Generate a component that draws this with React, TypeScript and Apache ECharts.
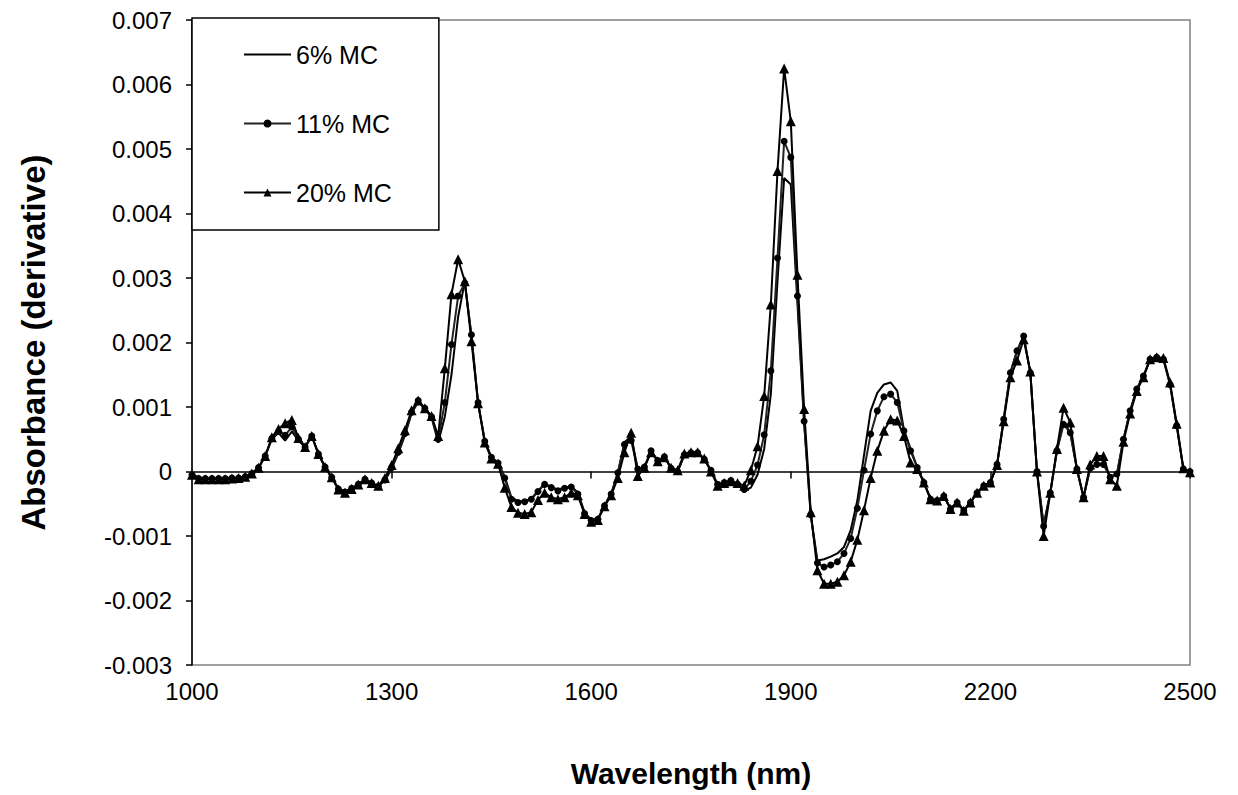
import React, { useEffect, useRef } from 'react';
import * as echarts from 'echarts';

// Wavelength (nm)
const wavelengths = [
  1000, 1010, 1020, 1030, 1040, 1050, 1060, 1070, 1080, 1090,
  1100, 1110, 1120, 1130, 1140, 1150, 1160, 1170, 1180, 1190,
  1200, 1210, 1220, 1230, 1240, 1250, 1260, 1270, 1280, 1290,
  1300, 1310, 1320, 1330, 1340, 1350, 1360, 1370, 1380, 1390,
  1400, 1410, 1420, 1430, 1440, 1450, 1460, 1470, 1480, 1490,
  1500, 1510, 1520, 1530, 1540, 1550, 1560, 1570, 1580, 1590,
  1600, 1610, 1620, 1630, 1640, 1650, 1660, 1670, 1680, 1690,
  1700, 1710, 1720, 1730, 1740, 1750, 1760, 1770, 1780, 1790,
  1800, 1810, 1820, 1830, 1840, 1850, 1860, 1870, 1880, 1890,
  1900, 1910, 1920, 1930, 1940, 1950, 1960, 1970, 1980, 1990,
  2000, 2010, 2020, 2030, 2040, 2050, 2060, 2070, 2080, 2090,
  2100, 2110, 2120, 2130, 2140, 2150, 2160, 2170, 2180, 2190,
  2200, 2210, 2220, 2230, 2240, 2250, 2260, 2270, 2280, 2290,
  2300, 2310, 2320, 2330, 2340, 2350, 2360, 2370, 2380, 2390,
  2400, 2410, 2420, 2430, 2440, 2450, 2460, 2470, 2480, 2490,
  2500,
];

// Absorbance (derivative), in units of 0.001
const mc6 = [
  -0.03, -0.10, -0.11, -0.11, -0.11, -0.11, -0.10, -0.10, -0.07, -0.03,
  0.06, 0.24, 0.50, 0.60, 0.48, 0.62, 0.48, 0.38, 0.55, 0.28,
  0.07, -0.10, -0.26, -0.31, -0.26, -0.20, -0.13, -0.18, -0.23, -0.14,
  0.04, 0.28, 0.56, 0.90, 1.08, 0.97, 0.84, 0.45, 0.85, 1.50,
  2.40, 2.95, 2.10, 1.06, 0.48, 0.22, 0.14, -0.08, -0.40, -0.46,
  -0.46, -0.42, -0.30, -0.19, -0.24, -0.28, -0.25, -0.23, -0.33, -0.63,
  -0.75, -0.73, -0.53, -0.35, -0.02, 0.45, 0.55, 0.04, 0.07, 0.32,
  0.17, 0.23, 0.05, 0.00, 0.25, 0.29, 0.29, 0.19, 0.02, -0.20,
  -0.17, -0.14, -0.20, -0.30, -0.25, -0.05, 0.35, 1.20, 2.95, 4.55,
  4.45, 2.60, 0.75, -0.68, -1.38, -1.36, -1.32, -1.27, -1.17, -0.91,
  -0.45, 0.25, 0.94, 1.22, 1.35, 1.38, 1.25, 0.65, 0.35, 0.07,
  -0.17, -0.42, -0.45, -0.38, -0.57, -0.48, -0.60, -0.48, -0.33, -0.22,
  -0.17, 0.11, 0.82, 1.53, 1.87, 2.10, 1.53, 0.00, -0.82, -0.33,
  0.32, 0.78, 0.60, 0.04, -0.40, 0.05, 0.11, 0.11, -0.07, -0.05,
  0.50, 0.94, 1.28, 1.48, 1.74, 1.77, 1.74, 1.35, 0.71, 0.04,
  0.00,
];

const mc11 = [
  -0.05, -0.11, -0.11, -0.11, -0.11, -0.11, -0.10, -0.10, -0.08, -0.03,
  0.06, 0.24, 0.51, 0.62, 0.56, 0.69, 0.50, 0.38, 0.55, 0.27,
  0.07, -0.09, -0.27, -0.32, -0.26, -0.20, -0.12, -0.18, -0.23, -0.13,
  0.06, 0.30, 0.59, 0.92, 1.10, 0.98, 0.85, 0.50, 1.07, 1.97,
  2.72, 2.92, 2.12, 1.07, 0.47, 0.22, 0.13, -0.10, -0.43, -0.48,
  -0.47, -0.43, -0.31, -0.20, -0.25, -0.30, -0.26, -0.24, -0.35, -0.65,
  -0.76, -0.74, -0.53, -0.35, -0.02, 0.42, 0.48, 0.04, 0.07, 0.32,
  0.17, 0.23, 0.05, 0.00, 0.26, 0.29, 0.29, 0.19, 0.02, -0.20,
  -0.17, -0.14, -0.20, -0.28, -0.15, 0.10, 0.57, 1.56, 3.31, 5.12,
  4.87, 2.72, 0.78, -0.67, -1.42, -1.48, -1.45, -1.40, -1.27, -1.04,
  -0.57, 0.02, 0.58, 0.94, 1.16, 1.20, 1.07, 0.63, 0.32, 0.06,
  -0.17, -0.43, -0.45, -0.38, -0.58, -0.48, -0.61, -0.48, -0.33, -0.22,
  -0.17, 0.11, 0.81, 1.53, 1.87, 2.10, 1.53, 0.00, -0.85, -0.33,
  0.32, 0.73, 0.60, 0.04, -0.40, 0.05, 0.11, 0.11, -0.09, -0.04,
  0.50, 0.94, 1.28, 1.48, 1.74, 1.77, 1.74, 1.35, 0.71, 0.04,
  0.00,
];

const mc20 = [
  -0.05, -0.12, -0.12, -0.12, -0.12, -0.12, -0.11, -0.10, -0.08, -0.03,
  0.06, 0.24, 0.53, 0.66, 0.75, 0.80, 0.52, 0.38, 0.55, 0.27,
  0.07, -0.09, -0.28, -0.33, -0.27, -0.20, -0.12, -0.18, -0.22, -0.10,
  0.10, 0.36, 0.64, 0.95, 1.10, 0.98, 0.86, 0.55, 1.60, 2.75,
  3.29, 2.95, 2.02, 1.06, 0.45, 0.20, 0.12, -0.25, -0.55, -0.64,
  -0.66, -0.63, -0.44, -0.33, -0.40, -0.43, -0.40, -0.33, -0.37, -0.66,
  -0.78, -0.75, -0.54, -0.37, -0.10, 0.30, 0.60, -0.07, 0.06, 0.30,
  0.16, 0.22, 0.06, 0.02, 0.28, 0.30, 0.30, 0.20, 0.00, -0.22,
  -0.18, -0.15, -0.18, -0.22, 0.02, 0.39, 1.17, 2.59, 4.66, 6.25,
  5.43, 3.05, 0.97, -0.63, -1.53, -1.74, -1.74, -1.71, -1.61, -1.40,
  -1.06, -0.60, -0.10, 0.32, 0.63, 0.81, 0.79, 0.55, 0.14, 0.04,
  -0.17, -0.43, -0.45, -0.38, -0.58, -0.48, -0.61, -0.48, -0.33, -0.22,
  -0.17, 0.10, 0.78, 1.46, 1.72, 2.05, 1.55, 0.00, -1.00, -0.33,
  0.35, 0.99, 0.76, 0.04, -0.40, 0.11, 0.24, 0.24, -0.12, -0.22,
  0.46, 0.90, 1.25, 1.46, 1.74, 1.77, 1.76, 1.38, 0.74, 0.05,
  -0.01,
];

const seriesNames = ['6% MC', '11% MC', '20% MC'];
const xTitle = 'Wavelength (nm)';
const yTitle = 'Absorbance (derivative)';

const FONT = '"Liberation Sans", Arial, sans-serif';

export default function App() {
  const ref = useRef<HTMLDivElement>(null);

  useEffect(() => {
    document.body.style.margin = '0';
    const chart = echarts.init(ref.current as HTMLDivElement, null, { renderer: 'svg' });
    const pairs = (vals: number[]) => wavelengths.map((w, i) => [w, vals[i]]);
    const black = '#000';

    chart.setOption({
      animation: false,
      backgroundColor: '#fff',
      textStyle: { fontFamily: FONT },
      grid: {
        left: 192,
        right: 48,
        top: 20,
        bottom: 130,
        show: true,
        borderColor: '#808080',
        borderWidth: 1.5,
        backgroundColor: 'transparent',
      },
      legend: {
        orient: 'vertical',
        left: 192,
        top: 18,
        padding: [24, 47, 25, 51],
        itemGap: 44,
        itemWidth: 47,
        itemHeight: 10,
        backgroundColor: '#fff',
        borderColor: black,
        borderWidth: 1.5,
        borderRadius: 0,
        textStyle: { fontSize: 25, color: black, fontFamily: FONT },
        data: [
          { name: seriesNames[0], itemStyle: { opacity: 0 } },
          { name: seriesNames[1] },
          { name: seriesNames[2] },
        ],
      },
      xAxis: [
        {
          type: 'value',
          min: 1000,
          max: 2500,
          interval: 300,
          position: 'bottom',
          axisLine: { show: false, onZero: false },
          axisTick: { show: false },
          splitLine: { show: false },
          axisLabel: {
            fontSize: 24,
            color: black,
            fontFamily: FONT,
            margin: 14,
            formatter: (v: number) => String(v),
          },
          name: xTitle,
          nameLocation: 'middle',
          nameGap: 93,
          nameTextStyle: { fontSize: 30, fontWeight: 'bold', color: black, fontFamily: FONT },
        },
        {
          type: 'value',
          min: 1000,
          max: 2500,
          interval: 300,
          position: 'top',
          axisLine: { show: true, onZero: true, lineStyle: { color: black, width: 1.5 } },
          axisTick: { show: true, inside: true, length: 7, lineStyle: { color: black, width: 1.5 } },
          axisLabel: { show: false },
          splitLine: { show: false },
        },
      ],
      yAxis: {
        type: 'value',
        min: -3,
        max: 7,
        interval: 1,
        axisLine: { show: true, onZero: false, lineStyle: { color: black, width: 1.5 } },
        axisTick: { show: true, length: 6, lineStyle: { color: black, width: 1.5 } },
        splitLine: { show: false },
        axisLabel: {
          fontSize: 24,
          color: black,
          fontFamily: FONT,
          margin: 20,
          formatter: (v: number) => (Math.abs(v) < 1e-9 ? '0' : (v / 1000).toFixed(3)),
        },
        name: yTitle,
        nameLocation: 'middle',
        nameGap: 142,
        nameRotate: 90,
        nameTextStyle: { fontSize: 33, fontWeight: 'bold', color: black, fontFamily: FONT },
      },
      series: [
        {
          name: seriesNames[0],
          type: 'line',
          xAxisIndex: 0,
          data: pairs(mc6),
          symbol: 'none',
          lineStyle: { color: black, width: 2 },
          itemStyle: { color: black },
        },
        {
          name: seriesNames[1],
          type: 'line',
          xAxisIndex: 0,
          data: pairs(mc11),
          symbol: 'circle',
          symbolSize: 7,
          showSymbol: true,
          lineStyle: { color: '#222', width: 2 },
          itemStyle: { color: black },
        },
        {
          name: seriesNames[2],
          type: 'line',
          xAxisIndex: 0,
          data: pairs(mc20),
          symbol: 'triangle',
          symbolSize: 10,
          showSymbol: true,
          lineStyle: { color: black, width: 2 },
          itemStyle: { color: black },
        },
      ],
    });

    return () => {
      chart.dispose();
    };
  }, []);

  return (
    <div
      ref={ref}
      style={{ position: 'absolute', left: 0, top: 0, width: 1238, height: 795, background: '#fff' }}
    />
  );
}
